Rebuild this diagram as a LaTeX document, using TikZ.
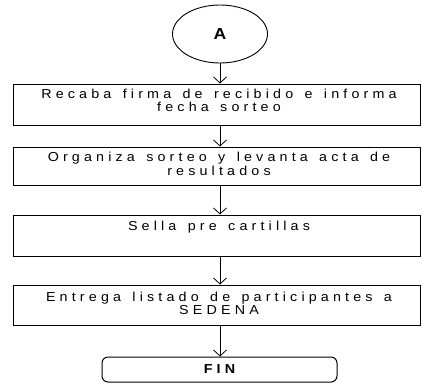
\documentclass[tikz,border=0pt]{standalone}
\usepackage{fontspec}
\setmainfont{Liberation Sans}[LetterSpace=32, FakeStretch=1.1, WordSpace=1.4]
\usetikzlibrary{arrows.meta,shapes.geometric}
\begin{document}
\begin{tikzpicture}[x=1pt,y=-1pt,
  box/.style={draw, line width=1pt, minimum width=407pt, inner sep=0pt},
  txt/.style={align=center, inner sep=0pt, font=\fontsize{13}{13.5}\selectfont},
  arr/.style={-{Straight Barb[length=6pt,width=13pt]}, line width=0.8pt}]
\useasboundingbox (0,0) rectangle (422,383);
\node[draw, ellipse, minimum width=95pt, minimum height=58pt, line width=0.9pt, inner sep=0pt] (A) at (220,34) {\fontsize{16}{18}\selectfont\bfseries A};
\node[box, minimum height=41pt] (b1) at (216.5,104.5) {};
\node[txt] (t1) at (219,100.5) {Recaba firma de recibido e informa\\fecha sorteo};
\node[box, minimum height=38pt] (b2) at (216.5,166) {};
\node[txt] (t2) at (219,164) {Organiza sorteo y levanta acta de\\resultados};
\node[box, minimum height=41pt] (b3) at (216.5,235.5) {};
\node[txt] (t3) at (219,227) {Sella pre cartillas};
\node[box, minimum height=40pt] (b4) at (216.5,305) {};
\node[txt] (t4) at (219,303.5) {Entrega listado de participantes a\\SEDENA};
\node[draw, rounded corners=6pt, minimum width=235pt, minimum height=25pt, line width=1pt, inner sep=0pt] (fin) at (219.5,369.5) {\fontsize{13}{14}\selectfont\bfseries FIN};
\draw[arr] (A.south) -- (A.south |- b1.north);
\draw[arr] (b1.south -| A.south) -- (b2.north -| A.south);
\draw[arr] (b2.south -| A.south) -- (b3.north -| A.south);
\draw[arr] (b3.south -| A.south) -- (b4.north -| A.south);
\draw[arr] (b4.south -| A.south) -- (fin.north -| A.south);
\end{tikzpicture}
\end{document}
